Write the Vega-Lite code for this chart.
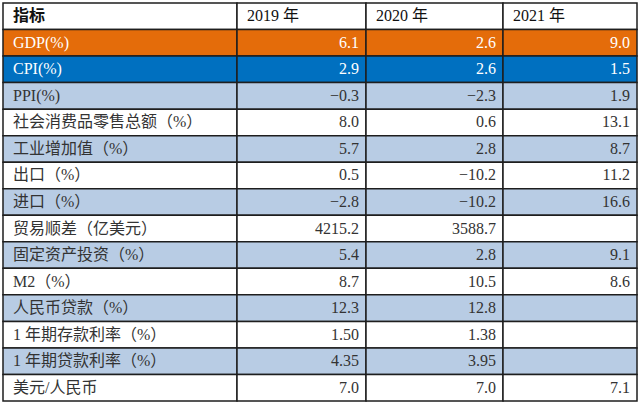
{
  "$schema": "https://vega.github.io/schema/vega-lite/v6.json",
  "background": "white",
  "padding": {"left": 2, "top": 2, "right": 0, "bottom": 0},
  "spacing": 0,
  "bounds": "flush",
  "config": {"view": {"stroke": null}, "concat": {"spacing": 0}},
  "datasets": {
    "t": [
      {"指标": "指标", "y2019": "2019 年", "y2020": "2020 年", "y2021": "2021 年"},
      {"指标": "GDP(%)", "y2019": "6.1", "y2020": "2.6", "y2021": "9.0"},
      {"指标": "CPI(%)", "y2019": "2.9", "y2020": "2.6", "y2021": "1.5"},
      {"指标": "PPI(%)", "y2019": "−0.3", "y2020": "−2.3", "y2021": "1.9"},
      {"指标": "社会消费品零售总额（%）", "y2019": "8.0", "y2020": "0.6", "y2021": "13.1"},
      {"指标": "工业增加值（%）", "y2019": "5.7", "y2020": "2.8", "y2021": "8.7"},
      {"指标": "出口（%）", "y2019": "0.5", "y2020": "−10.2", "y2021": "11.2"},
      {"指标": "进口（%）", "y2019": "−2.8", "y2020": "−10.2", "y2021": "16.6"},
      {"指标": "贸易顺差（亿美元）", "y2019": "4215.2", "y2020": "3588.7", "y2021": ""},
      {"指标": "固定资产投资（%）", "y2019": "5.4", "y2020": "2.8", "y2021": "9.1"},
      {"指标": "M2（%）", "y2019": "8.7", "y2020": "10.5", "y2021": "8.6"},
      {"指标": "人民币贷款（%）", "y2019": "12.3", "y2020": "12.8", "y2021": ""},
      {"指标": "1 年期存款利率（%）", "y2019": "1.50", "y2020": "1.38", "y2021": ""},
      {"指标": "1 年期贷款利率（%）", "y2019": "4.35", "y2020": "3.95", "y2021": ""},
      {"指标": "美元/人民币", "y2019": "7.0", "y2020": "7.0", "y2021": "7.1"}
    ]
  },
  "hconcat": [
    {
      "width": 234, "height": 398,
      "data": {"name": "t"},
      "encoding": {"y": {"field": "指标", "type": "nominal", "sort": null, "axis": null,
        "scale": {"paddingInner": 0, "paddingOuter": 0, "domain": ["指标","GDP(%)","CPI(%)","PPI(%)","社会消费品零售总额（%）","工业增加值（%）","出口（%）","进口（%）","贸易顺差（亿美元）","固定资产投资（%）","M2（%）","人民币贷款（%）","1 年期存款利率（%）","1 年期贷款利率（%）","美元/人民币"]}}},
      "layer": [
        {"mark": {"type": "rect", "stroke": "#1e1e1e", "strokeWidth": 1.5},
         "encoding": {"fill": {"field": "指标", "type": "nominal", "legend": null,
           "scale": {"domain": ["指标","GDP(%)","CPI(%)","PPI(%)","社会消费品零售总额（%）","工业增加值（%）","出口（%）","进口（%）","贸易顺差（亿美元）","固定资产投资（%）","M2（%）","人民币贷款（%）","1 年期存款利率（%）","1 年期贷款利率（%）","美元/人民币"],
             "range": ["#ffffff","#E46C0A","#0070C0","#B8CCE4","#ffffff","#B8CCE4","#ffffff","#B8CCE4","#ffffff","#B8CCE4","#ffffff","#B8CCE4","#ffffff","#B8CCE4","#ffffff"]}}}},
        {"transform": [{"filter": "datum['指标'] === '指标'"}],
         "mark": {"type": "text", "align": "left", "dx": 10, "font": "Liberation Serif, Noto Sans CJK SC", "fontSize": 16, "fontWeight": "bold", "color": "#111111"},
         "encoding": {"x": {"datum": 0, "type": "quantitative", "scale": {"domain": [0, 1]}, "axis": null}, "text": {"field": "指标"}}},
        {"transform": [{"filter": "datum['指标'] !== '指标'"}],
         "mark": {"type": "text", "align": "left", "dx": 10, "font": "Liberation Serif, Noto Sans CJK SC", "fontSize": 16},
         "encoding": {"x": {"datum": 0, "type": "quantitative", "scale": {"domain": [0, 1]}, "axis": null}, "text": {"field": "指标"},
           "color": {"condition": {"test": "datum['指标'] === 'GDP(%)' || datum['指标'] === 'CPI(%)'", "value": "#ffffff"}, "value": "#333333"}}}
      ]
    },
    {
      "width": 129, "height": 398,
      "data": {"name": "t"},
      "encoding": {"y": {"field": "指标", "type": "nominal", "sort": null, "axis": null,
        "scale": {"paddingInner": 0, "paddingOuter": 0, "domain": ["指标","GDP(%)","CPI(%)","PPI(%)","社会消费品零售总额（%）","工业增加值（%）","出口（%）","进口（%）","贸易顺差（亿美元）","固定资产投资（%）","M2（%）","人民币贷款（%）","1 年期存款利率（%）","1 年期贷款利率（%）","美元/人民币"]}}},
      "layer": [
        {"mark": {"type": "rect", "stroke": "#1e1e1e", "strokeWidth": 1.5},
         "encoding": {"fill": {"field": "指标", "type": "nominal", "legend": null,
           "scale": {"domain": ["指标","GDP(%)","CPI(%)","PPI(%)","社会消费品零售总额（%）","工业增加值（%）","出口（%）","进口（%）","贸易顺差（亿美元）","固定资产投资（%）","M2（%）","人民币贷款（%）","1 年期存款利率（%）","1 年期贷款利率（%）","美元/人民币"],
             "range": ["#ffffff","#E46C0A","#0070C0","#B8CCE4","#ffffff","#B8CCE4","#ffffff","#B8CCE4","#ffffff","#B8CCE4","#ffffff","#B8CCE4","#ffffff","#B8CCE4","#ffffff"]}}}},
        {"transform": [{"filter": "datum['指标'] === '指标'"}],
         "mark": {"type": "text", "align": "left", "dx": 10, "font": "Liberation Serif, Noto Sans CJK SC", "fontSize": 16, "color": "#111111"},
         "encoding": {"x": {"datum": 0, "type": "quantitative", "scale": {"domain": [0, 1]}, "axis": null}, "text": {"field": "y2019"}}},
        {"transform": [{"filter": "datum['指标'] !== '指标'"}],
         "mark": {"type": "text", "align": "right", "dx": -7, "font": "Liberation Serif, Noto Sans CJK SC", "fontSize": 16},
         "encoding": {"x": {"datum": 1, "type": "quantitative", "scale": {"domain": [0, 1]}, "axis": null}, "text": {"field": "y2019"},
           "color": {"condition": {"test": "datum['指标'] === 'GDP(%)' || datum['指标'] === 'CPI(%)'", "value": "#ffffff"}, "value": "#333333"}}}
      ]
    },
    {
      "width": 137, "height": 398,
      "data": {"name": "t"},
      "encoding": {"y": {"field": "指标", "type": "nominal", "sort": null, "axis": null,
        "scale": {"paddingInner": 0, "paddingOuter": 0, "domain": ["指标","GDP(%)","CPI(%)","PPI(%)","社会消费品零售总额（%）","工业增加值（%）","出口（%）","进口（%）","贸易顺差（亿美元）","固定资产投资（%）","M2（%）","人民币贷款（%）","1 年期存款利率（%）","1 年期贷款利率（%）","美元/人民币"]}}},
      "layer": [
        {"mark": {"type": "rect", "stroke": "#1e1e1e", "strokeWidth": 1.5},
         "encoding": {"fill": {"field": "指标", "type": "nominal", "legend": null,
           "scale": {"domain": ["指标","GDP(%)","CPI(%)","PPI(%)","社会消费品零售总额（%）","工业增加值（%）","出口（%）","进口（%）","贸易顺差（亿美元）","固定资产投资（%）","M2（%）","人民币贷款（%）","1 年期存款利率（%）","1 年期贷款利率（%）","美元/人民币"],
             "range": ["#ffffff","#E46C0A","#0070C0","#B8CCE4","#ffffff","#B8CCE4","#ffffff","#B8CCE4","#ffffff","#B8CCE4","#ffffff","#B8CCE4","#ffffff","#B8CCE4","#ffffff"]}}}},
        {"transform": [{"filter": "datum['指标'] === '指标'"}],
         "mark": {"type": "text", "align": "left", "dx": 10, "font": "Liberation Serif, Noto Sans CJK SC", "fontSize": 16, "color": "#111111"},
         "encoding": {"x": {"datum": 0, "type": "quantitative", "scale": {"domain": [0, 1]}, "axis": null}, "text": {"field": "y2020"}}},
        {"transform": [{"filter": "datum['指标'] !== '指标'"}],
         "mark": {"type": "text", "align": "right", "dx": -7, "font": "Liberation Serif, Noto Sans CJK SC", "fontSize": 16},
         "encoding": {"x": {"datum": 1, "type": "quantitative", "scale": {"domain": [0, 1]}, "axis": null}, "text": {"field": "y2020"},
           "color": {"condition": {"test": "datum['指标'] === 'GDP(%)' || datum['指标'] === 'CPI(%)'", "value": "#ffffff"}, "value": "#333333"}}}
      ]
    },
    {
      "width": 134, "height": 398,
      "data": {"name": "t"},
      "encoding": {"y": {"field": "指标", "type": "nominal", "sort": null, "axis": null,
        "scale": {"paddingInner": 0, "paddingOuter": 0, "domain": ["指标","GDP(%)","CPI(%)","PPI(%)","社会消费品零售总额（%）","工业增加值（%）","出口（%）","进口（%）","贸易顺差（亿美元）","固定资产投资（%）","M2（%）","人民币贷款（%）","1 年期存款利率（%）","1 年期贷款利率（%）","美元/人民币"]}}},
      "layer": [
        {"mark": {"type": "rect", "stroke": "#1e1e1e", "strokeWidth": 1.5},
         "encoding": {"fill": {"field": "指标", "type": "nominal", "legend": null,
           "scale": {"domain": ["指标","GDP(%)","CPI(%)","PPI(%)","社会消费品零售总额（%）","工业增加值（%）","出口（%）","进口（%）","贸易顺差（亿美元）","固定资产投资（%）","M2（%）","人民币贷款（%）","1 年期存款利率（%）","1 年期贷款利率（%）","美元/人民币"],
             "range": ["#ffffff","#E46C0A","#0070C0","#B8CCE4","#ffffff","#B8CCE4","#ffffff","#B8CCE4","#ffffff","#B8CCE4","#ffffff","#B8CCE4","#ffffff","#B8CCE4","#ffffff"]}}}},
        {"transform": [{"filter": "datum['指标'] === '指标'"}],
         "mark": {"type": "text", "align": "left", "dx": 10, "font": "Liberation Serif, Noto Sans CJK SC", "fontSize": 16, "color": "#111111"},
         "encoding": {"x": {"datum": 0, "type": "quantitative", "scale": {"domain": [0, 1]}, "axis": null}, "text": {"field": "y2021"}}},
        {"transform": [{"filter": "datum['指标'] !== '指标'"}],
         "mark": {"type": "text", "align": "right", "dx": -7, "font": "Liberation Serif, Noto Sans CJK SC", "fontSize": 16},
         "encoding": {"x": {"datum": 1, "type": "quantitative", "scale": {"domain": [0, 1]}, "axis": null}, "text": {"field": "y2021"},
           "color": {"condition": {"test": "datum['指标'] === 'GDP(%)' || datum['指标'] === 'CPI(%)'", "value": "#ffffff"}, "value": "#333333"}}}
      ]
    }
  ]
}
